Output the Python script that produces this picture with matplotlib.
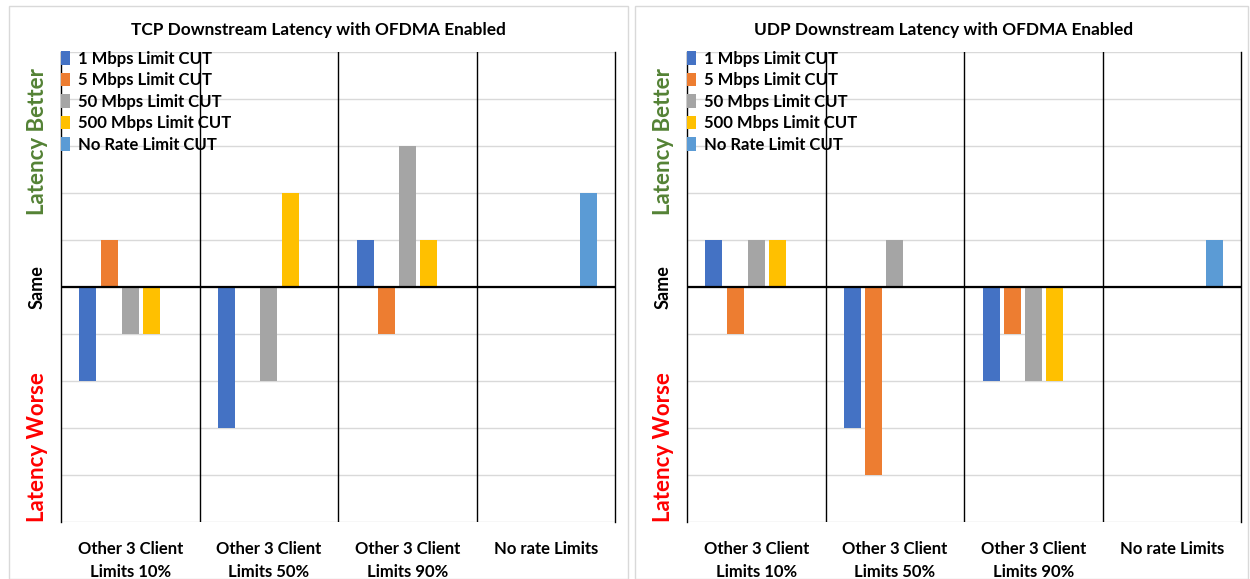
import numpy as np
import matplotlib
matplotlib.use("Agg")
import matplotlib.pyplot as plt
from matplotlib.patches import Rectangle

plt.rcParams['font.family'] = ['Lato', 'DejaVu Sans']

categories = ["Other 3 Client\nLimits 10%", "Other 3 Client\nLimits 50%",
              "Other 3 Client\nLimits 90%", "No rate Limits"]
series = ["1 Mbps Limit CUT", "5 Mbps Limit CUT", "50 Mbps Limit CUT",
          "500 Mbps Limit CUT", "No Rate Limit CUT"]
colors = ["#4472C4", "#ED7D31", "#A5A5A5", "#FFC000", "#5B9BD5"]

# relative latency change per series, one list per category
tcp_1m = [-2, -3, 1, 0]
tcp_5m = [1, 0, -1, 0]
tcp_50m = [-1, -2, 3, 0]
tcp_500m = [-1, 2, 1, 0]
tcp_norate = [0, 0, 0, 2]

udp_1m = [1, -3, -2, 0]
udp_5m = [-1, -4, -1, 0]
udp_50m = [1, 1, -2, 0]
udp_500m = [1, 0, -2, 0]
udp_norate = [0, 0, 0, 1]

tcp = [tcp_1m, tcp_5m, tcp_50m, tcp_500m, tcp_norate]
udp = [udp_1m, udp_5m, udp_50m, udp_500m, udp_norate]

fig = plt.figure(figsize=(12.5, 5.79), dpi=100)

# light panel frames
for x0, w in [(0.007, 0.495), (0.508, 0.490)]:
    fig.patches.append(Rectangle((x0, 0.0), w, 0.99, transform=fig.transFigure,
                                 fill=False, edgecolor="#D9D9D9", lw=1.0))


def draw_panel(left, data, title, title_x):
    ax = fig.add_axes([left, 0.0984, 0.4435, 0.8117])
    x = np.arange(len(categories))
    step, width = 0.153, 0.122
    for j, vals in enumerate(data):
        ax.bar(x + (j - 2) * step, vals, width=width, color=colors[j],
               label=series[j], zorder=3)
    ax.set_xlim(-0.5, 3.5)
    ax.set_ylim(-5, 5)
    ax.set_yticks(np.arange(-5, 6))
    ax.set_yticklabels([])
    ax.tick_params(length=0)
    ax.grid(axis="y", color="#D9D9D9", lw=1.0, zorder=0)
    ax.set_xticks(x)
    ax.set_xticklabels(categories, fontsize=12, fontweight="bold",
                       va="top", linespacing=1.5)
    ax.tick_params(axis="x", pad=14)
    for s in ["top", "bottom"]:
        ax.spines[s].set_visible(False)
    for s in ["left", "right"]:
        ax.spines[s].set_color("black")
        ax.spines[s].set_linewidth(1.0)
    for d in [0.5, 1.5, 2.5]:
        ax.axvline(d, color="black", lw=1.0, zorder=2)
    ax.axhline(0, color="black", lw=1.6, zorder=4)

    leg = ax.legend(loc="upper left", bbox_to_anchor=(0.0, 1.003), frameon=False,
                    borderpad=0, borderaxespad=0, handlelength=0.55,
                    handleheight=0.85, handletextpad=0.45, labelspacing=0.33,
                    prop={"weight": "bold", "size": 12})
    leg.set_zorder(5)

    ax.text(-0.043, 3.1, "Latency Better", transform=ax.get_yaxis_transform(),
            rotation=90, ha="center", va="center", fontsize=16,
            fontweight="bold", color="#548235")
    ax.text(-0.043, 0.0, "Same", transform=ax.get_yaxis_transform(),
            rotation=90, ha="center", va="center", fontsize=13,
            fontweight="bold", color="black")
    ax.text(-0.043, -3.4, "Latency Worse", transform=ax.get_yaxis_transform(),
            rotation=90, ha="center", va="center", fontsize=16,
            fontweight="bold", color="#FF0000")
    fig.text(title_x, 0.948, title, ha="center", va="center", fontsize=12.4,
             fontweight="bold")
    return ax


draw_panel(0.0488, tcp, "TCP Downstream Latency with OFDMA Enabled", 0.2545)
draw_panel(0.5496, udp, "UDP Downstream Latency with OFDMA Enabled", 0.7545)

fig.savefig("out.png", dpi=100)
